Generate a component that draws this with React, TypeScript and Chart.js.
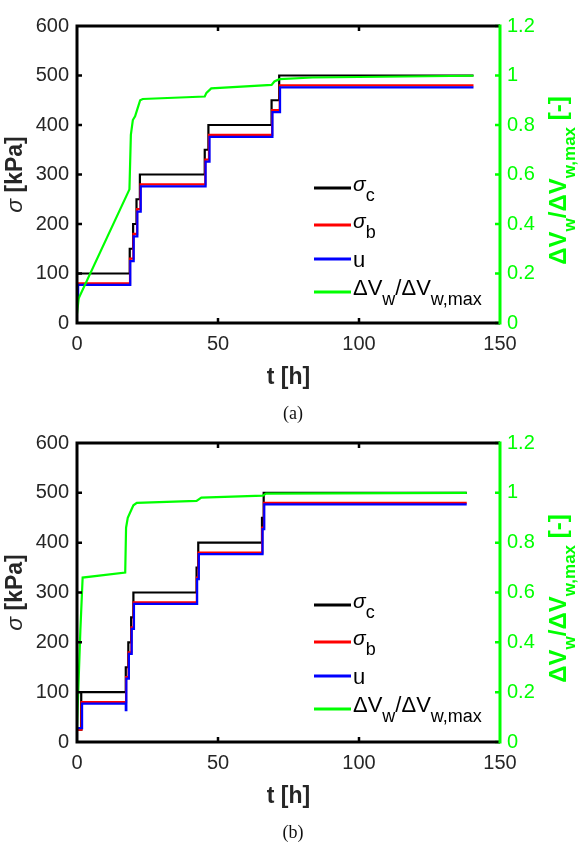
import React, { useEffect, useRef } from "react";
import { Chart, registerables } from "chart.js";

Chart.register(...registerables);

// ---------- data: panel (a) ----------
const A_SC_T = [0, 18.7, 19.9, 21.1, 22.3, 45.3, 46.6, 69.0, 71.7, 140.6];
const A_SC_V = [100, 150, 200, 250, 300, 350, 400, 450, 500, 500];
const A_SB_T = [0, 18.8, 20.0, 21.3, 22.5, 45.5, 46.8, 69.2, 71.9, 140.6];
const A_SB_V = [80, 130, 180, 230, 280, 330, 380, 430, 480, 480];
const A_U_T = [0, 0.4, 18.9, 20.1, 21.4, 22.6, 45.6, 47.0, 69.3, 72.0, 140.6];
const A_U_V = [50, 77, 125, 175, 225, 276, 326, 376, 426, 476, 476];
const A_DV_T = [0, 0.6, 18.6, 19.1, 19.8, 20.6, 21.4, 22.4, 23.3, 45.3, 45.9, 47.6, 69.0, 70.0, 71.8, 83.5, 140.6];
const A_DV_V = [0.038, 0.1, 0.54, 0.76, 0.82, 0.835, 0.864, 0.9, 0.905, 0.915, 0.93, 0.948, 0.962, 0.976, 0.985, 0.992, 0.999];

// ---------- data: panel (b) ----------
const B_SC_T = [0, 1.5, 17.3, 18.2, 19.2, 20.0, 42.4, 43.0, 65.6, 66.2, 138.2];
const B_SC_V = [25, 100, 150, 200, 250, 300, 350, 400, 450, 500, 500];
const B_SB_T = [0, 1.6, 17.4, 18.3, 19.3, 20.1, 42.5, 43.1, 65.7, 66.3, 138.2];
const B_SB_V = [25, 80, 130, 180, 230, 280, 330, 380, 430, 480, 480];
const B_U_T = [0, 1.8, 17.3, 17.5, 18.4, 19.4, 20.2, 42.6, 43.2, 65.8, 66.4, 138.2];
const B_U_V = [28, 77, 64, 127, 177, 227, 277, 327, 377, 427, 477, 477];
const B_DV_T = [0, 1.2, 2.0, 17.1, 17.4, 18.0, 18.8, 20.0, 21.2, 42.4, 44.1, 65.9, 67.0, 138.2];
const B_DV_V = [0.06, 0.45, 0.66, 0.68, 0.86, 0.9, 0.92, 0.95, 0.96, 0.968, 0.981, 0.989, 0.997, 1.0];

// ---------- axes ----------
const X_TICKS = [0, 50, 100, 150];
const Y_TICKS = [0, 100, 200, 300, 400, 500, 600];
const Y1_TICKS = [0, 0.2, 0.4, 0.6, 0.8, 1, 1.2];
const Y1_LABELS = ["0", "0.2", "0.4", "0.6", "0.8", "1", "1.2"];
const X_TITLE = "t [h]";
const CAPTIONS = ["(a)", "(b)"];

const W = 588;
const H = 423;
const LEFT = 77;
const RIGHT = 500;
const GREEN = "#00ff00";
const DARK = "#262626";
const FONT = "'Liberation Sans', Arial, sans-serif";

type Seg = { t: string; font: string; dy: number; color?: string };

function drawRich(ctx: CanvasRenderingContext2D, x: number, y: number, segs: Seg[], align: "left" | "center") {
  ctx.textBaseline = "middle";
  ctx.textAlign = "left";
  let total = 0;
  for (const s of segs) {
    ctx.font = s.font;
    total += ctx.measureText(s.t).width;
  }
  let cx = align === "center" ? x - total / 2 : x;
  for (const s of segs) {
    ctx.font = s.font;
    if (s.color) ctx.fillStyle = s.color;
    ctx.fillText(s.t, cx, y + s.dy);
    cx += ctx.measureText(s.t).width;
  }
}

function makePlugin(caption: string) {
  return {
    id: "frame",
    afterDraw(chart: any) {
      const ctx: CanvasRenderingContext2D = chart.ctx;
      const { left, right, top, bottom } = chart.chartArea;
      const sx = chart.scales.x;
      const sy = chart.scales.y;
      const sy1 = chart.scales.y1;
      ctx.save();
      // ticks
      const tl = 5;
      ctx.lineWidth = 2.5;
      ctx.strokeStyle = "#000";
      ctx.beginPath();
      for (const v of X_TICKS.slice(1, -1)) {
        const px = sx.getPixelForValue(v);
        ctx.moveTo(px, bottom);
        ctx.lineTo(px, bottom - tl);
        ctx.moveTo(px, top);
        ctx.lineTo(px, top + tl);
      }
      for (const v of Y_TICKS.slice(1, -1)) {
        const py = sy.getPixelForValue(v);
        ctx.moveTo(left, py);
        ctx.lineTo(left + tl, py);
      }
      ctx.stroke();
      ctx.strokeStyle = GREEN;
      ctx.beginPath();
      for (const v of Y1_TICKS) {
        const py = sy1.getPixelForValue(v);
        ctx.moveTo(right, py);
        ctx.lineTo(right - tl, py);
      }
      ctx.stroke();
      // frame
      ctx.lineWidth = 3;
      ctx.strokeStyle = "#000";
      ctx.beginPath();
      ctx.moveTo(right, top);
      ctx.lineTo(left, top);
      ctx.lineTo(left, bottom);
      ctx.lineTo(right, bottom);
      ctx.stroke();
      ctx.strokeStyle = GREEN;
      ctx.beginPath();
      ctx.moveTo(right, top - 1.5);
      ctx.lineTo(right, bottom + 1.5);
      ctx.stroke();

      // legend
      const rows = [
        { color: "#000", dy: 162, segs: [
          { t: "σ", font: `italic 21px ${FONT}`, dy: -3 },
          { t: "c", font: `18px ${FONT}`, dy: 8 },
        ] },
        { color: "#ff0000", dy: 199, segs: [
          { t: "σ", font: `italic 21px ${FONT}`, dy: -3 },
          { t: "b", font: `18px ${FONT}`, dy: 8 },
        ] },
        { color: "#0000ff", dy: 233, segs: [{ t: "u", font: `22px ${FONT}`, dy: 2 }] },
        { color: GREEN, dy: 266, segs: [
          { t: "ΔV", font: `22px ${FONT}`, dy: -3 },
          { t: "w", font: `18px ${FONT}`, dy: 8 },
          { t: "/ΔV", font: `22px ${FONT}`, dy: -3 },
          { t: "w,max", font: `18px ${FONT}`, dy: 8 },
        ] },
      ];
      for (const r of rows) {
        const y = top + r.dy;
        ctx.lineWidth = 3;
        ctx.strokeStyle = r.color;
        ctx.beginPath();
        ctx.moveTo(314, y);
        ctx.lineTo(351, y);
        ctx.stroke();
        ctx.fillStyle = "#000";
        drawRich(ctx, 353, y, r.segs as Seg[], "left");
      }

      // x title
      ctx.fillStyle = DARK;
      ctx.textAlign = "center";
      ctx.textBaseline = "middle";
      ctx.font = `bold 23px ${FONT}`;
      ctx.fillText(X_TITLE, (left + right) / 2, bottom + 55);

      // left title
      const mid = (top + bottom) / 2;
      ctx.save();
      ctx.translate(16, mid);
      ctx.rotate(-Math.PI / 2);
      ctx.fillStyle = DARK;
      drawRich(ctx, 0, 0, [
        { t: "σ", font: `italic 23px ${FONT}`, dy: 0 },
        { t: " [kPa]", font: `bold 23px ${FONT}`, dy: 0 },
      ], "center");
      ctx.restore();

      // right title
      ctx.save();
      ctx.translate(559, mid + 6);
      ctx.rotate(-Math.PI / 2);
      ctx.fillStyle = GREEN;
      drawRich(ctx, 0, 0, [
        { t: "ΔV", font: `bold 24px ${FONT}`, dy: 0 },
        { t: "w", font: `bold 17px ${FONT}`, dy: 11 },
        { t: "/ΔV", font: `bold 24px ${FONT}`, dy: 0 },
        { t: "w,max", font: `bold 17px ${FONT}`, dy: 11 },
        { t: " [-]", font: `bold 24px ${FONT}`, dy: 0 },
      ], "center");
      ctx.restore();

      // caption
      ctx.fillStyle = "#111";
      ctx.textAlign = "center";
      ctx.textBaseline = "middle";
      ctx.font = `18px 'Liberation Serif', 'Times New Roman', serif`;
      ctx.fillText(caption, 293, bottom + 91);
      ctx.restore();
    },
  };
}

function series(t: number[], v: number[]) {
  return t.map((x, i) => ({ x, y: v[i] }));
}

type Panel = {
  caption: string;
  top: number;
  bottom: number;
  sc: [number[], number[]];
  sb: [number[], number[]];
  u: [number[], number[]];
  dv: [number[], number[]];
};

const PANELS: Panel[] = [
  { caption: CAPTIONS[0], top: 26, bottom: 323, sc: [A_SC_T, A_SC_V], sb: [A_SB_T, A_SB_V], u: [A_U_T, A_U_V], dv: [A_DV_T, A_DV_V] },
  { caption: CAPTIONS[1], top: 18, bottom: 319, sc: [B_SC_T, B_SC_V], sb: [B_SB_T, B_SB_V], u: [B_U_T, B_U_V], dv: [B_DV_T, B_DV_V] },
];

function ChartPanel({ panel }: { panel: Panel }) {
  const ref = useRef<HTMLCanvasElement | null>(null);
  useEffect(() => {
    if (!ref.current) return;
    const line = (label: string, d: [number[], number[]], color: string, axis: string, stepped: boolean) => ({
      label,
      data: series(d[0], d[1]),
      borderColor: color,
      backgroundColor: color,
      borderWidth: 2.2,
      pointRadius: 0,
      tension: 0,
      fill: false,
      stepped: stepped ? ("before" as const) : false,
      yAxisID: axis,
    });
    const chart = new Chart(ref.current, {
      type: "line",
      data: {
        datasets: [
          line("ΔVw/ΔVw,max", panel.dv, GREEN, "y1", false),
          line("u", panel.u, "#0000ff", "y", true),
          line("σb", panel.sb, "#ff0000", "y", true),
          line("σc", panel.sc, "#000000", "y", true),
        ] as any,
      },
      options: {
        animation: false,
        responsive: false,
        maintainAspectRatio: false,
        layout: { padding: { top: panel.top, left: 0, right: 0, bottom: 0 } },
        plugins: { legend: { display: false }, tooltip: { enabled: false } },
        scales: {
          x: {
            type: "linear",
            position: "bottom",
            min: 0,
            max: 150,
            afterBuildTicks: (s: any) => { s.ticks = X_TICKS.map((v) => ({ value: v })); },
            ticks: { padding: 9, color: DARK, font: { size: 20, family: FONT }, maxRotation: 0, autoSkip: false },
            grid: { display: false, drawTicks: false },
            border: { display: false },
            afterFit: (s: any) => { s.height = H - panel.bottom; },
          },
          y: {
            type: "linear",
            position: "left",
            min: 0,
            max: 600,
            afterBuildTicks: (s: any) => { s.ticks = Y_TICKS.map((v) => ({ value: v })); },
            ticks: { padding: 8, color: DARK, font: { size: 20, family: FONT }, autoSkip: false },
            grid: { display: false, drawTicks: false },
            border: { display: false },
            afterFit: (s: any) => { s.width = LEFT; },
          },
          y1: {
            type: "linear",
            position: "right",
            min: 0,
            max: 1.2,
            afterBuildTicks: (s: any) => { s.ticks = Y1_TICKS.map((v) => ({ value: v })); },
            ticks: {
              padding: 7,
              color: GREEN,
              font: { size: 20, family: FONT },
              autoSkip: false,
              callback: (_v: any, i: number) => Y1_LABELS[i],
            },
            grid: { display: false, drawTicks: false },
            border: { display: false },
            afterFit: (s: any) => { s.width = W - RIGHT; },
          },
        },
      } as any,
      plugins: [makePlugin(panel.caption)],
    });
    return () => chart.destroy();
  }, [panel]);
  return <canvas ref={ref} width={W} height={H} style={{ display: "block", width: W, height: H }} />;
}

export default function App() {
  return (
    <div style={{ position: "absolute", left: 0, top: 0, width: W, height: 2 * H, background: "#fff" }}>
      {PANELS.map((p, i) => (
        <ChartPanel key={i} panel={p} />
      ))}
    </div>
  );
}
